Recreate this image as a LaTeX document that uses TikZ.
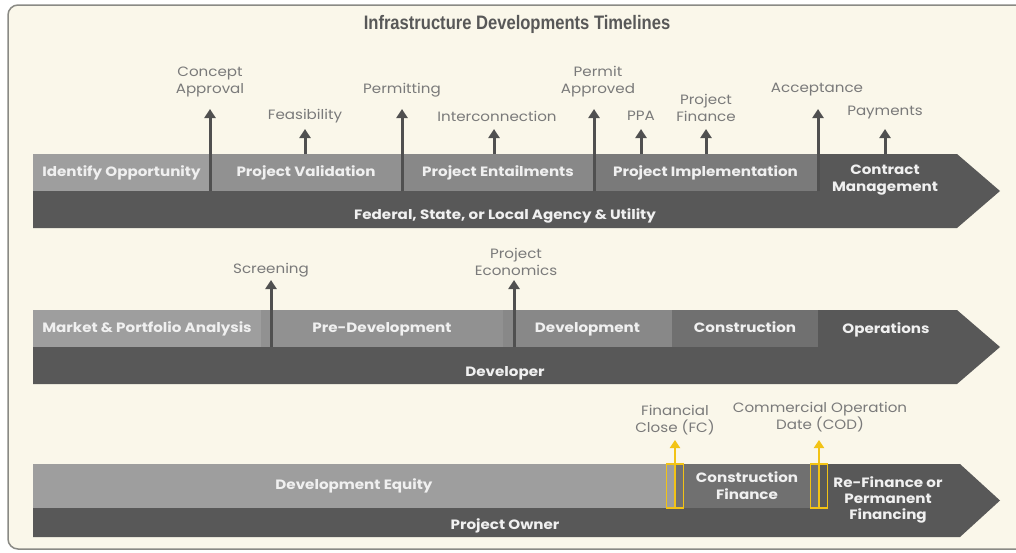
\documentclass[tikz,border=0pt]{standalone}
\usepackage{fontspec}
\setmainfont[FakeStretch=1.12]{Poppins}
\newfontfamily\titlefont[FakeStretch=0.85]{Liberation Sans}
\usetikzlibrary{arrows.meta,positioning}
\definecolor{bg}{HTML}{FAF7EA}
\definecolor{frame}{HTML}{8A8A85}
\definecolor{dark}{HTML}{585858}
\definecolor{arr}{HTML}{505050}
\definecolor{mtext}{HTML}{7A7A7A}
\definecolor{gold}{HTML}{F2C316}
\definecolor{sa}{HTML}{9E9E9E}
\definecolor{sb}{HTML}{919191}
\definecolor{sc}{HTML}{888888}
\definecolor{sd}{HTML}{7A7A7A}
\definecolor{se}{HTML}{707070}
\begin{document}
\begin{tikzpicture}[x=1pt,y=-1pt,
	stage/.style={minimum height=37pt,inner sep=0pt,outer sep=0pt,text height=9.5pt,text depth=2.5pt,text=white!94!black,font=\fontsize{13.5}{17}\selectfont\bfseries},
	bandtxt/.style={inner sep=0pt,text=white!94!black,align=center,font=\fontsize{13.5}{17.5}\selectfont\bfseries},
	mlabel/.style={inner sep=0pt,text=mtext,align=center,font=\fontsize{13.5}{17}\selectfont},
	ms/.style={arr,line width=3pt,-{Triangle[width=11pt,length=9pt]}},
	gms/.style={gold,line width=2.5pt,-{Triangle[width=10pt,length=8pt]}}]
	\fill[white] (0,0) rectangle (1016,552);
	\useasboundingbox (0,0) rectangle (1016,552);
	\draw[rounded corners=10pt,fill=bg,draw=frame,line width=1.5pt] (8,5) rectangle (1040,549);
	\node[font=\titlefont\fontsize{19.5}{21}\selectfont\bfseries,text=dark] (title) at (517,24) {Infrastructure Developments Timelines};

	% agency row
	\fill[dark] (33,154) -- (957,154) -- (1000,191) -- (957,228) -- (33,228) -- cycle;
	\node[stage,fill=sa,minimum width=177pt] (ident) at (121.5,172.5) {Identify Opportunity};
	\node[stage,fill=sb,minimum width=192pt] (valid) at (306,172.5) {Project Validation};
	\node[stage,fill=sc,minimum width=192pt] (entail) at (498,172.5) {Project Entailments};
	\node[stage,fill=sd,minimum width=223pt] (impl) at (705.5,172.5) {Project Implementation};
	\node[bandtxt] (contract) at (885,180) {Contract\\Management};
	\node[bandtxt] (agency) at (505,216) {Federal, State, or Local Agency \& Utility};

	\foreach \nm/\x/\yb/\yt/\lx/\ly/\txt in {
		ca/210/191/109/210/81.5/{Concept\\Approval},
		fe/305/154/129/305/116/Feasibility,
		pe/402/191/109/402/90/Permitting,
		ic/494/154/129/497/116/Interconnection,
		pa/594/191/109/598/81.5/{Permit\\Approved},
		ppa/641/154/129/641/116/PPA,
		pf/706/154/129/706/107.5/{Project\\Finance},
		ac/818/191/109/817/90/Acceptance,
		pay/885/154/129/885/113/Payments,
		scr/271/347/280/271/270/Screening,
		pec/514/347/280/516/262/{Project\\Economics}}{
		\coordinate (\nm b) at (\x,\yb);
		\coordinate (\nm t) at (\x,\yt);
		\node[mlabel] (\nm) at (\lx,\ly) {\txt};
	}

	% developer row
	\fill[dark] (33,310) -- (957,310) -- (1000,347) -- (957,384) -- (33,384) -- cycle;
	\node[stage,fill=sa,minimum width=228pt] (market) at (147,328.5) {Market \& Portfolio Analysis};
	\node[stage,fill=sb,minimum width=242pt] (predev) at (382,328.5) {Pre-Development};
	\node[stage,fill=sc,minimum width=169pt] (devel) at (587.5,328.5) {Development};
	\node[stage,fill=se,minimum width=146pt] (constr) at (745,328.5) {Construction};
	\node[bandtxt] (oper) at (886,329.5) {Operations};
	\node[bandtxt] (developer) at (505,373) {Developer};

	\foreach \nm in {ca,fe,pe,ic,pa,ppa,pf,ac,pay,scr,pec}
		\draw[ms] (\nm b) -- (\nm t);

	% owner row
	\fill[dark] (33,464) -- (960,464) -- (1000,500.5) -- (960,537) -- (33,537) -- cycle;
	\node[stage,fill=sa,minimum width=642pt,minimum height=44pt] (equity) at (354,486) {Development Equity};
	\node[stage,fill=se,minimum width=144pt,minimum height=44pt,text height={},text depth={},align=center] (cfin) at (747,486) {Construction\\Finance};
	\node[bandtxt,font=\fontsize{13.5}{16}\selectfont\bfseries] (refin) at (888,500) {Re-Finance or\\Permanent\\Financing};
	\node[bandtxt] (owner) at (505,526) {Project Owner};

	\draw[gold,line width=1.5pt] (666.5,464) rectangle (683.5,508);
	\draw[gold,line width=1.5pt] (810.5,464) rectangle (827.5,508);
	\coordinate (fcb) at (675,508);
	\coordinate (fct) at (675,440);
	\coordinate (codb) at (819,508);
	\coordinate (codt) at (819,440);
	\draw[gms] (fcb) -- (fct);
	\draw[gms] (codb) -- (codt);
	\node[mlabel] (fc) at (675,420.5) {Financial\\Close (FC)};
	\node[mlabel] (cod) at (820,417.5) {Commercial Operation\\Date (COD)};
\end{tikzpicture}
\end{document}
